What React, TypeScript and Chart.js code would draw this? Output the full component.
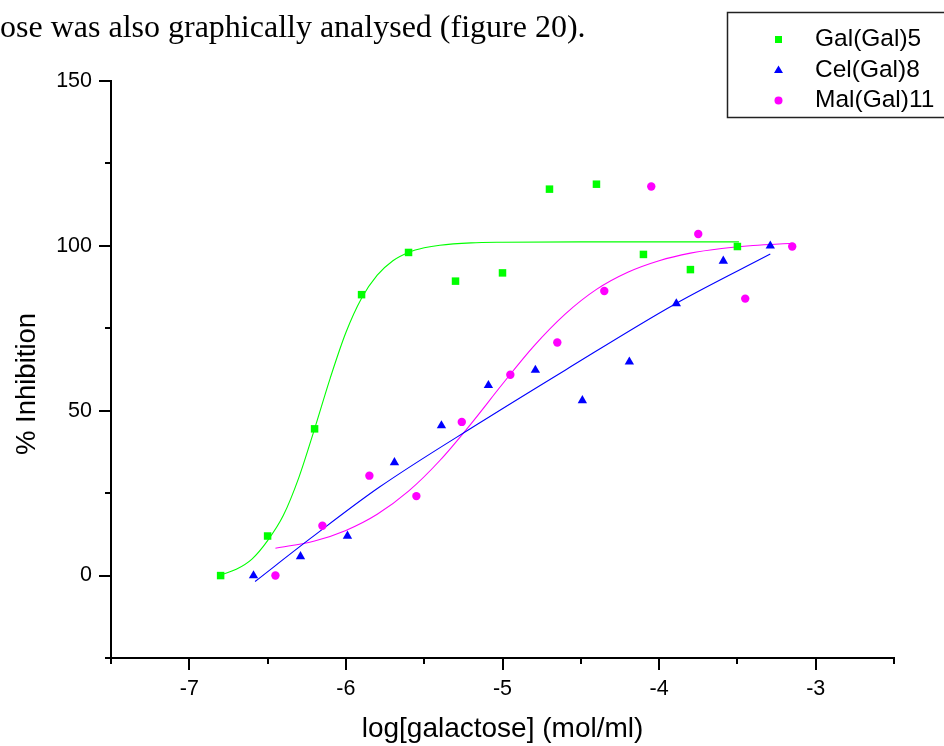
import React, { useEffect, useRef } from 'react';
import { Chart, registerables } from 'chart.js';

Chart.register(...registerables);

// ---------- data ----------
const seriesNames = ['Gal(Gal)5', 'Cel(Gal)8', 'Mal(Gal)11'];
const seriesColors = ['#00ff00', '#0000ff', '#ff00ff'];
const seriesStyles = ['rect', 'triangle', 'circle'];

const galX = [-6.8, -6.5, -6.2, -5.9, -5.6, -5.3, -5.0, -4.7, -4.4, -4.1, -3.8, -3.5];
const galY = [0, 12.0, 44.5, 85.2, 98.0, 89.3, 91.8, 117.2, 118.7, 97.4, 92.8, 99.8];

const celX = [-6.59, -6.29, -5.99, -5.69, -5.39, -5.09, -4.79, -4.49, -4.19, -3.89, -3.59, -3.29];
const celY = [0, 5.8, 12.0, 34.3, 45.5, 57.7, 62.3, 53.1, 64.8, 82.5, 95.4, 100];

const malX = [-6.45, -6.15, -5.85, -5.55, -5.26, -4.95, -4.65, -4.35, -4.05, -3.75, -3.45, -3.15];
const malY = [0, 15.1, 30.3, 24.1, 46.6, 60.9, 70.7, 86.3, 118, 103.6, 84, 99.8];

// fitted curves
const galFitX = [-6.8, -6.7, -6.6, -6.5, -6.4, -6.3, -6.2, -6.1, -6.0, -5.9, -5.8, -5.7, -5.6, -5.5, -5.4, -5.2, -5.0, -4.5, -3.49];
const galFitY = [0.2, 1.9, 5.0, 10.6, 18.2, 29.8, 44.5, 59.9, 73.7, 84.1, 91.1, 95.5, 98.0, 99.4, 100.2, 100.9, 101.1, 101.2, 101.2];

const celFitX = [-6.58, -6.22, -5.79, -5.15, -4.6, -3.9, -3.29];
const celFitY = [-1.8, 11.5, 26.7, 46.2, 62.3, 82.3, 97.5];

const malFitX = [-6.45, -6.2, -6.0, -5.8, -5.6, -5.4, -5.2, -5.0, -4.8, -4.6, -4.4, -4.2, -4.0, -3.8, -3.6, -3.4, -3.15];
const malFitY = [8.3, 10.5, 13.7, 18.6, 25.6, 34.9, 46.1, 58.1, 69.6, 79.3, 86.8, 92.0, 95.5, 97.8, 99.2, 100.1, 100.8];

const xMajorTicks = [-7, -6, -5, -4, -3];
const yMajorTicks = [0, 50, 100, 150];

const topText = 'ose was also graphically analysed (figure 20).';
const xTitle = 'log[galactose] (mol/ml)';
const yTitle = '% Inhibition';

const FONT = "'Liberation Sans', Arial, sans-serif";

const toPts = (xs: number[], ys: number[]) => xs.map((x, i) => ({ x, y: ys[i] }));

const isMajor = (list: number[], v: number) => list.some((m) => Math.abs(m - v) < 1e-6);

const decorPlugin = {
  id: 'decor',
  afterDraw(chart: any) {
    const ctx: CanvasRenderingContext2D = chart.ctx;
    const xs = chart.scales.x;
    const ys = chart.scales.y;
    const area = chart.chartArea;
    ctx.save();
    ctx.strokeStyle = '#000';
    ctx.lineWidth = 2;
    // x ticks
    xs.ticks.forEach((t: any) => {
      const px = Math.round(xs.getPixelForValue(t.value));
      const len = isMajor(xMajorTicks, t.value) ? 12 : 6;
      ctx.beginPath();
      ctx.moveTo(px, area.bottom);
      ctx.lineTo(px, area.bottom + len);
      ctx.stroke();
    });
    // y ticks
    ys.ticks.forEach((t: any) => {
      const py = Math.round(ys.getPixelForValue(t.value));
      const len = isMajor(yMajorTicks, t.value) ? 12 : 6;
      ctx.beginPath();
      ctx.moveTo(area.left, py);
      ctx.lineTo(area.left - len, py);
      ctx.stroke();
    });

    // y title
    ctx.fillStyle = '#000';
    ctx.save();
    ctx.translate(35, 384);
    ctx.rotate(-Math.PI / 2);
    ctx.font = `27.5px ${FONT}`;
    ctx.textAlign = 'center';
    ctx.textBaseline = 'alphabetic';
    ctx.fillText(yTitle, 0, 0);
    ctx.restore();

    // top text (document fragment)
    ctx.font = "32px 'Liberation Serif', 'Times New Roman', serif";
    ctx.textAlign = 'left';
    ctx.textBaseline = 'alphabetic';
    ctx.fillText(topText, 0, 37);

    // legend box
    ctx.lineWidth = 1.5;
    ctx.strokeStyle = '#222';
    ctx.strokeRect(727.5, 12.5, 300, 105);
    const rows = [39.5, 70, 100.5];
    const mx = 778.5;
    ctx.font = `24.5px ${FONT}`;
    ctx.textBaseline = 'middle';
    seriesNames.forEach((name, i) => {
      const y = rows[i];
      ctx.fillStyle = seriesColors[i];
      ctx.beginPath();
      if (seriesStyles[i] === 'rect') {
        ctx.rect(mx - 3.5, y - 3.5, 7, 7);
      } else if (seriesStyles[i] === 'triangle') {
        ctx.moveTo(mx, y - 4.5);
        ctx.lineTo(mx + 4.5, y + 3);
        ctx.lineTo(mx - 4.5, y + 3);
        ctx.closePath();
      } else {
        ctx.arc(mx, y, 4, 0, Math.PI * 2);
      }
      ctx.fill();
      ctx.fillStyle = '#000';
      ctx.fillText(name, 815, y);
    });
    ctx.restore();
  },
};

export default function App() {
  const ref = useRef<HTMLCanvasElement | null>(null);

  useEffect(() => {
    if (!ref.current) return;
    const pointSets = [
      toPts(galX, galY),
      toPts(celX, celY),
      toPts(malX, malY),
    ];
    const fitSets = [
      toPts(galFitX, galFitY),
      toPts(celFitX, celFitY),
      toPts(malFitX, malFitY),
    ];
    const radii = [5.3, 5.4, 4.2];
    const datasets: any[] = [];
    seriesNames.forEach((name, i) => {
      datasets.push({
        type: 'scatter',
        label: name,
        data: pointSets[i],
        showLine: false,
        pointStyle: seriesStyles[i],
        pointRadius: radii[i],
        pointBackgroundColor: seriesColors[i],
        pointBorderWidth: 0,
        pointBorderColor: seriesColors[i],
      });
    });
    seriesNames.forEach((name, i) => {
      datasets.push({
        type: 'line',
        label: name + ' fit',
        data: fitSets[i],
        borderColor: seriesColors[i],
        borderWidth: 1.1,
        pointRadius: 0,
        fill: false,
        cubicInterpolationMode: 'monotone',
      });
    });

    const chart = new Chart(ref.current, {
      type: 'scatter',
      data: { datasets },
      options: {
        animation: false,
        responsive: false,
        events: [],
        layout: { padding: { top: 81, right: 50, left: 0, bottom: 0 } },
        plugins: {
          legend: { display: false },
          tooltip: { enabled: false },
          title: { display: false },
        },
        scales: {
          x: {
            type: 'linear',
            min: -7.5,
            max: -2.5,
            afterFit: (s: any) => {
              s.height = 88;
            },
            ticks: {
              stepSize: 0.5,
              autoSkip: false,
              maxRotation: 0,
              padding: 18,
              color: '#000',
              font: { family: FONT, size: 21.5 },
              callback: (v: any) => (isMajor(xMajorTicks, Number(v)) ? String(Math.round(Number(v))) : ''),
            },
            grid: { display: false, drawTicks: false },
            border: { display: true, color: '#000', width: 2 },
            title: {
              display: true,
              text: xTitle,
              color: '#000',
              font: { family: FONT, size: 28 },
              padding: { top: 0, bottom: 0 },
            },
          },
          y: {
            type: 'linear',
            min: -25,
            max: 150,
            afterFit: (s: any) => {
              s.width = 111;
            },
            ticks: {
              stepSize: 25,
              autoSkip: false,
              padding: 19,
              color: '#000',
              font: { family: FONT, size: 21.5 },
              callback: (v: any) => (isMajor(yMajorTicks, Number(v)) ? String(Math.round(Number(v))) : ''),
            },
            grid: { display: false, drawTicks: false },
            border: { display: true, color: '#000', width: 2 },
            title: { display: false },
          },
        },
      } as any,
      plugins: [decorPlugin],
    });
    return () => chart.destroy();
  }, []);

  return (
    <div style={{ position: 'absolute', left: 0, top: 0, width: 944, height: 746, background: '#fff' }}>
      <canvas ref={ref} width={944} height={746} style={{ display: 'block', width: 944, height: 746 }} />
    </div>
  );
}
